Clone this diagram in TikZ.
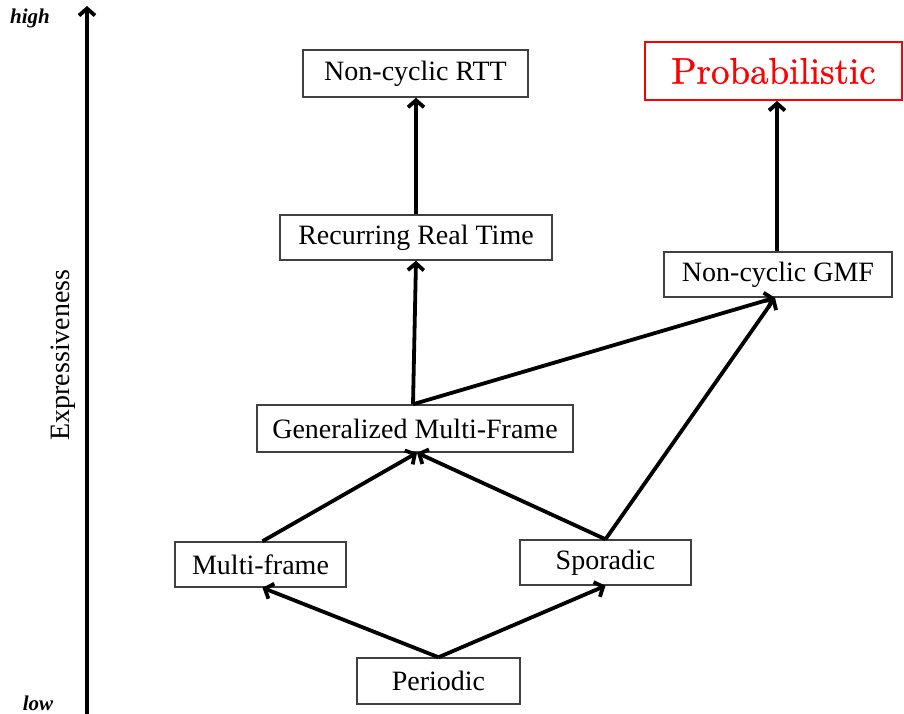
\documentclass[tikz,border=0pt]{standalone}
\usepackage{fontspec}
\newfontfamily\tnr{Liberation Serif}
\newfontfamily\lmb{lmroman10-regular}[Extension=.otf,FakeBold=0.8]
\usetikzlibrary{arrows.meta}
\begin{document}
\begin{tikzpicture}[x=1pt,y=-1pt,
  box/.style={draw=black!75,line width=1.5pt,fill=white,inner sep=0pt,
    font=\tnr\fontsize{28}{32}\selectfont,anchor=center},
  conn/.style={line width=3.8pt,-{Straight Barb[length=7pt,width=16pt]}},
  axislabel/.style={font=\tnr\bfseries\itshape\fontsize{21}{24}\selectfont,inner sep=0pt}]
\useasboundingbox (0,0) rectangle (904,714);
% axis
\coordinate (axb) at (87,714);
\coordinate (axt) at (87,6);
\draw[conn] (axb) -- (axt);
\node[axislabel] (high) at (30,18) {high};
\node[axislabel] (low) at (38,703) {low};
\node[font=\tnr\fontsize{28}{32}\selectfont,rotate=90,inner sep=0pt] (expr) at (63,355) {Expressiveness};
% nodes
\node[box,minimum width=225pt,minimum height=47pt] (rtt) at (415.5,73.5) {Non-cyclic RTT};
\node[box,draw=red,line width=2pt,text=red,minimum width=257pt,minimum height=58pt,
  font=\lmb\fontsize{37}{40}\selectfont] (prob) at (773.5,71) {Probabilistic};
\node[box,minimum width=272pt,minimum height=45pt] (rrt) at (416,237.5) {Recurring Real Time};
\node[box,minimum width=228pt,minimum height=45pt] (ncgmf) at (778,274.5) {Non-cyclic GMF};
\node[box,minimum width=316pt,minimum height=47pt] (gmf) at (415,428.5) {Generalized Multi-Frame};
\node[box,minimum width=171pt,minimum height=45pt] (mf) at (260.5,564.5) {Multi-frame};
\node[box,minimum width=171pt,minimum height=45pt] (sp) at (605.5,562.5) {Sporadic};
\node[box,minimum width=163pt,minimum height=46pt] (per) at (438.5,681) {Periodic};
% connectors
\draw[conn] (per.north) -- ([xshift=2pt]mf.south);
\draw[conn] (per.north) -- (sp.south);
\draw[conn] ([xshift=2pt]mf.north) -- ([xshift=2pt]gmf.south);
\draw[conn] (sp.north) -- ([xshift=2pt]gmf.south);
\draw[conn] (sp.north) -- ([xshift=-3pt]ncgmf.south);
\draw[conn] ([xshift=-2pt]gmf.north) -- (rrt.south);
\draw[conn] ([xshift=-2pt]gmf.north) -- ([xshift=-3pt]ncgmf.south);
\draw[conn] (rrt.north) -- (rrt.north |- rtt.south);
\draw[conn] ([xshift=-1pt]ncgmf.north) -- ([xshift=-1pt]ncgmf.north |- prob.south);
\end{tikzpicture}
\end{document}
